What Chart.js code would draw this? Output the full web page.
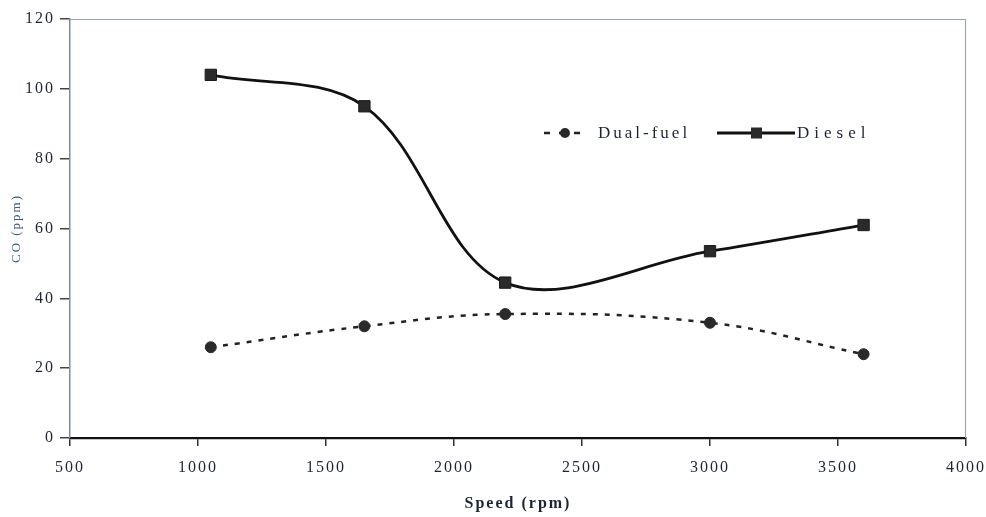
<!DOCTYPE html>
<html>
<head>
<meta charset="utf-8">
<script src="https://cdn.jsdelivr.net/npm/chart.js@4.4.1/dist/chart.umd.min.js"></script>
<style>
  html, body { margin: 0; padding: 0; background: #fff; }
  #wrap { width: 986px; height: 517px; }
</style>
</head>
<body>
<div id="wrap"><canvas id="myChart" width="986" height="517"></canvas></div>
<script>
const speeds = [1050, 1650, 2200, 3000, 3600];
const dualFuel = [26, 32, 35.5, 33, 24];
const diesel = [104, 95, 44.5, 53.5, 61];
const xTicks = [500, 1000, 1500, 2000, 2500, 3000, 3500, 4000];
const yTicks = [0, 20, 40, 60, 80, 100, 120];

const serif = '"Liberation Serif", "Times New Roman", serif';
const inkColor = '#1c2536';

function toPoints(values) {
    return speeds.map((s, i) => ({ x: s, y: values[i] }));
}

// canvas letter spacing gets reset whenever the canvas is resized, so set it per pass
const spacing = {
    id: 'spacing',
    beforeLayout(chart) { chart.ctx.letterSpacing = '2px'; },
    beforeDraw(chart) { chart.ctx.letterSpacing = '2px'; },
    afterDraw(chart) { chart.ctx.letterSpacing = '0px'; }
};

// light frame on top and right of the plot
const frame = {
    id: 'frame',
    beforeDatasetsDraw(chart) {
        const { ctx, chartArea: a } = chart;
        ctx.save();
        ctx.lineWidth = 1.2;
        ctx.strokeStyle = '#8ea3c0';
        ctx.beginPath();
        ctx.moveTo(a.left, a.top + 0.5);
        ctx.lineTo(a.right, a.top + 0.5);
        ctx.stroke();
        ctx.strokeStyle = '#a0a8b4';
        ctx.beginPath();
        ctx.moveTo(a.right - 0.5, a.top);
        ctx.lineTo(a.right - 0.5, a.bottom);
        ctx.stroke();
        ctx.restore();
    }
};

// legend sits inside the plot, like the original
const innerLegend = {
    id: 'innerLegend',
    afterDraw(chart) {
        const { ctx, chartArea: a } = chart;
        const y = a.top + 114;
        ctx.save();
        ctx.font = '17px ' + serif;
        ctx.fillStyle = inkColor;
        ctx.textBaseline = 'middle';

        // Dual-fuel sample
        let x = a.left + 474;
        ctx.strokeStyle = '#222';
        ctx.lineWidth = 2.5;
        ctx.setLineDash([6, 9]);
        ctx.beginPath();
        ctx.moveTo(x, y);
        ctx.lineTo(x + 42, y);
        ctx.stroke();
        ctx.setLineDash([]);
        ctx.fillStyle = '#2a2a2a';
        ctx.beginPath();
        ctx.arc(x + 21, y, 5, 0, Math.PI * 2);
        ctx.fill();
        ctx.fillStyle = inkColor;
        ctx.letterSpacing = '3px';
        ctx.fillText('Dual-fuel', x + 54, y + 1);

        // Diesel sample
        x = a.left + 647;
        ctx.strokeStyle = '#111';
        ctx.lineWidth = 3;
        ctx.beginPath();
        ctx.moveTo(x, y);
        ctx.lineTo(x + 78, y);
        ctx.stroke();
        ctx.fillStyle = '#2a2a2a';
        ctx.fillRect(x + 34, y - 5.5, 11, 11);
        ctx.fillStyle = inkColor;
        ctx.letterSpacing = '5px';
        ctx.fillText('Diesel', x + 80, y + 1);
        ctx.restore();
    }
};

const data = {
    datasets: [
        {
            label: 'Dual-fuel',
            data: toPoints(dualFuel),
            borderColor: '#222',
            borderWidth: 2.5,
            borderDash: [5, 7],
            tension: 0.4,
            pointStyle: 'circle',
            pointRadius: 5.5,
            pointBackgroundColor: '#2a2a2a',
            pointBorderColor: '#2a2a2a',
            pointBorderWidth: 1
        },
        {
            label: 'Diesel',
            data: toPoints(diesel),
            borderColor: '#111',
            borderWidth: 2.8,
            tension: 0.35,
            pointStyle: 'rect',
            pointRadius: 8,
            pointBackgroundColor: '#2a2a2a',
            pointBorderColor: '#1a1a1a',
            pointBorderWidth: 1
        }
    ]
};

const config = {
    type: 'line',
    data: data,
    options: {
        responsive: false,
        animation: false,
        layout: { padding: { top: 19, right: 20, bottom: 0, left: 0 } },
        plugins: {
            legend: { display: false },
            tooltip: { enabled: false }
        },
        scales: {
            x: {
                type: 'linear',
                min: xTicks[0],
                max: xTicks[xTicks.length - 1],
                afterBuildTicks(scale) { scale.ticks = xTicks.map(v => ({ value: v })); },
                afterFit(scale) {
                    scale.height = 79;
                    scale.paddingLeft = 0;
                    scale.paddingRight = 0;
                },
                grid: { drawOnChartArea: false, drawTicks: true, tickLength: 8, color: '#333', lineWidth: 1.5 },
                border: { display: true, color: '#111', width: 2.2 },
                ticks: {
                    color: inkColor,
                    padding: 12,
                    font: { family: serif, size: 16 },
                    maxRotation: 0,
                    callback: v => String(v)
                },
                title: {
                    display: true,
                    text: 'Speed (rpm)',
                    color: inkColor,
                    font: { family: serif, size: 16, weight: 'bold' },
                    padding: { top: 0, bottom: 4 }
                }
            },
            y: {
                min: yTicks[0],
                max: yTicks[yTicks.length - 1],
                afterBuildTicks(scale) { scale.ticks = yTicks.map(v => ({ value: v })); },
                afterFit(scale) {
                    scale.width = 70;
                    scale.paddingTop = 0;
                    scale.paddingBottom = 0;
                },
                grid: { drawOnChartArea: false, drawTicks: true, tickLength: 10, color: '#444', lineWidth: 1.5 },
                border: { display: true, color: '#7d8ba0', width: 1.5 },
                ticks: { color: inkColor, padding: 5, font: { family: serif, size: 16 }, callback: v => String(v) },
                title: {
                    display: true,
                    text: 'CO (ppm)',
                    color: '#2f5b8f',
                    font: { family: serif, size: 13 },
                    padding: { top: 9, bottom: 0 }
                }
            }
        }
    },
    plugins: [spacing, frame, innerLegend]
};

new Chart(document.getElementById('myChart'), config);
</script>
</body>
</html>
